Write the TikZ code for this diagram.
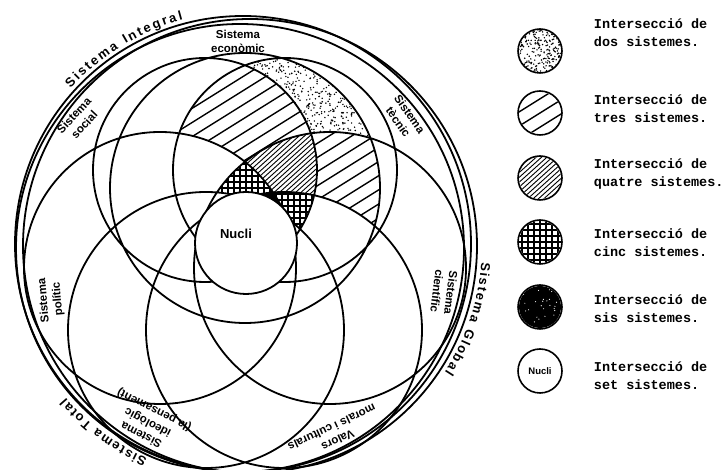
\documentclass[tikz,border=0pt]{standalone}
\usepackage{fontspec}
\setmainfont{Liberation Sans}
\newfontfamily\typewfont{Liberation Mono}
\usetikzlibrary{decorations.text}

% the seven systems (centre, radius; 1 unit = 1 px of the page)
\newcommand{\ecocirc}{(245,282) circle[radius=135]}
\newcommand{\soccirc}{(205,300) circle[radius=112]}
\newcommand{\teccirc}{(285,300) circle[radius=112]}
\newcommand{\policirc}{(160,202) circle[radius=136]}
\newcommand{\ciecirc}{(330,202) circle[radius=136]}
\newcommand{\idecirc}{(206,140) circle[radius=138]}
\newcommand{\morcirc}{(284,140) circle[radius=138]}

% used inside a scope with even odd rule: keeps what lies outside #1
\newcommand{\cutout}[1]{\clip (-100,-100) rectangle (900,600) #1;}
\newcommand{\stipple}[4]{\foreach \i in {1,...,#4}
    \fill ({#1+(2*rnd-1)*#3},{#2+(2*rnd-1)*#3}) circle[radius=0.8];}
\newcommand{\hatchlines}[5]{%
  \begin{scope}[shift={#1}, rotate=#2]
    \foreach \k in {-#5,...,#5}
      \draw[line width=#4] (-200,\k*#3) -- (200,\k*#3);
  \end{scope}}

\begin{document}
\begin{tikzpicture}[x=1pt, y=1pt, line width=1.8pt,
    sysname/.style={font=\bfseries\fontsize{11.5}{14}\selectfont, align=center, inner sep=0},
    legtext/.style={font=\typewfont\bfseries\fontsize{13.5}{18}\selectfont, align=left, anchor=west, inner sep=0},
    legdisc/.style={circle, draw, line width=1.6pt, minimum size=44, inner sep=0},
    ringtext/.style={decorate, decoration={text along path, text align={fit to path},
        text={|\bfseries\fontsize{13}{14}\selectfont|#1}}}]
    \useasboundingbox (0,0) rectangle (725,470);

    % intersections of two to six systems
    \begin{scope}[even odd rule]
        \clip \ecocirc; \clip \teccirc;
        \cutout{\soccirc}\cutout{\ciecirc}\cutout{\policirc}\cutout{\idecirc}\cutout{\morcirc}
        \pgfmathsetseed{11}
        \stipple{320}{375}{80}{1600}
    \end{scope}
    \begin{scope}[even odd rule]
        \clip \soccirc; \clip \ecocirc; \clip \teccirc;
        \cutout{\ciecirc}\cutout{\policirc}\cutout{\idecirc}\cutout{\morcirc}
        \hatchlines{(300,330)}{32}{12}{1.4pt}{25}
    \end{scope}
    \begin{scope}[even odd rule]
        \clip \ecocirc; \clip \teccirc; \clip \ciecirc;
        \cutout{\soccirc}\cutout{\policirc}\cutout{\idecirc}\cutout{\morcirc}
        \hatchlines{(300,330)}{32}{12}{1.4pt}{25}
    \end{scope}
    \begin{scope}[even odd rule]
        \clip \soccirc; \clip \ecocirc; \clip \teccirc; \clip \ciecirc;
        \cutout{\policirc}\cutout{\idecirc}\cutout{\morcirc}
        \hatchlines{(300,330)}{42}{3.6}{0.9pt}{80}
    \end{scope}
    \begin{scope}[even odd rule]
        \clip \soccirc; \clip \ecocirc; \clip \teccirc; \clip \ciecirc; \clip \policirc;
        \cutout{\idecirc}\cutout{\morcirc}
        \draw[line width=1.3pt, step=6] (150,150) grid (400,400);
    \end{scope}
    \begin{scope}[even odd rule]
        \clip \soccirc; \clip \ecocirc; \clip \teccirc; \clip \ciecirc; \clip \morcirc;
        \cutout{\policirc}\cutout{\idecirc}
        \draw[line width=1.3pt, step=6] (150,150) grid (400,400);
    \end{scope}
    \begin{scope}[even odd rule]
        \clip \soccirc; \clip \ecocirc; \clip \teccirc; \clip \ciecirc; \clip \policirc; \clip \morcirc;
        \cutout{\idecirc}
        \fill (150,150) rectangle (400,400);
    \end{scope}

    % outer systems and the seven inner ones
    \draw (243,226) circle[radius=228];
    \draw (250,224) circle[radius=227];
    \draw (240,222) circle[radius=224];
    \draw \ecocirc \soccirc \teccirc \policirc \ciecirc \idecirc \morcirc;
    \node[circle, draw, fill=white, minimum size=102, inner sep=0] (nucli) at (246,227) {};
    \node[sysname, font=\bfseries\fontsize{13}{14}\selectfont] (nuclilabel) at (236,236) {Nucli};

    \node[sysname] (eco) at (238,429) {Sistema\\econòmic};
    \node[sysname, rotate=-55] (tec) at (404,352) {Sistema\\tècnic};
    \node[sysname, rotate=47] (soc) at (79,350) {Sistema\\social};
    \node[sysname, rotate=95] (pol) at (51,170) {Sistema\\polític};
    \node[sysname, rotate=-97] (cie) at (444,178) {Sistema\\científic};
    \node[sysname, rotate=153] (ide) at (148,48) {Sistema\\ideològic\\(la pensament)};
    \node[sysname, rotate=205] (val) at (335,36) {Valors\\morals i culturals};

    \path[ringtext=Sistema Integral] (243,226) ++(138:232) arc[start angle=138, end angle=105, radius=232];
    \path[ringtext=Sistema Global] (250,224) ++(-4:232) arc[start angle=-4, end angle=-33, radius=232];
    \path[ringtext=Sistema Total] (243,226) ++(-114:235) arc[start angle=-114, end angle=-139, radius=235];

    % legend
    \foreach \n/\y in {1/419, 2/357, 3/292, 4/228, 5/163, 6/99}
        \node[legdisc] (disc\n) at (540,\y) {};
    \foreach \n/\y/\cnt in {1/437/dos, 2/361/tres, 3/296/quatre, 4/227/cinc, 5/161/sis, 6/94/set}
        \node[legtext] (leg\n) at (593,\y) {Intersecció de\\\cnt\ sistemes.};

    \begin{scope}
        \clip (disc1.center) circle[radius=21];
        \pgfmathsetseed{5}
        \stipple{540}{419}{22}{280}
    \end{scope}
    \begin{scope}
        \clip (disc2.center) circle[radius=21];
        \hatchlines{(540,357)}{32}{12}{1.4pt}{1}
    \end{scope}
    \begin{scope}
        \clip (disc3.center) circle[radius=21];
        \hatchlines{(540,292)}{42}{3.6}{0.9pt}{8}
    \end{scope}
    \begin{scope}
        \clip (disc4.center) circle[radius=21];
        \draw[line width=1.3pt, step=6] (510,198) grid (570,258);
    \end{scope}
    \begin{scope}
        \clip (disc5.center) circle[radius=21];
        \fill (515,138) rectangle (565,188);
        \pgfmathsetseed{3}
        \foreach \i in {1,...,25}
            \fill[white] ({540+(2*rnd-1)*18},{163+(2*rnd-1)*18}) circle[radius=0.6];
    \end{scope}
    \node[sysname, font=\bfseries\fontsize{9.5}{10}\selectfont] (nuclikey) at (disc6) {Nucli};
\end{tikzpicture}
\end{document}
